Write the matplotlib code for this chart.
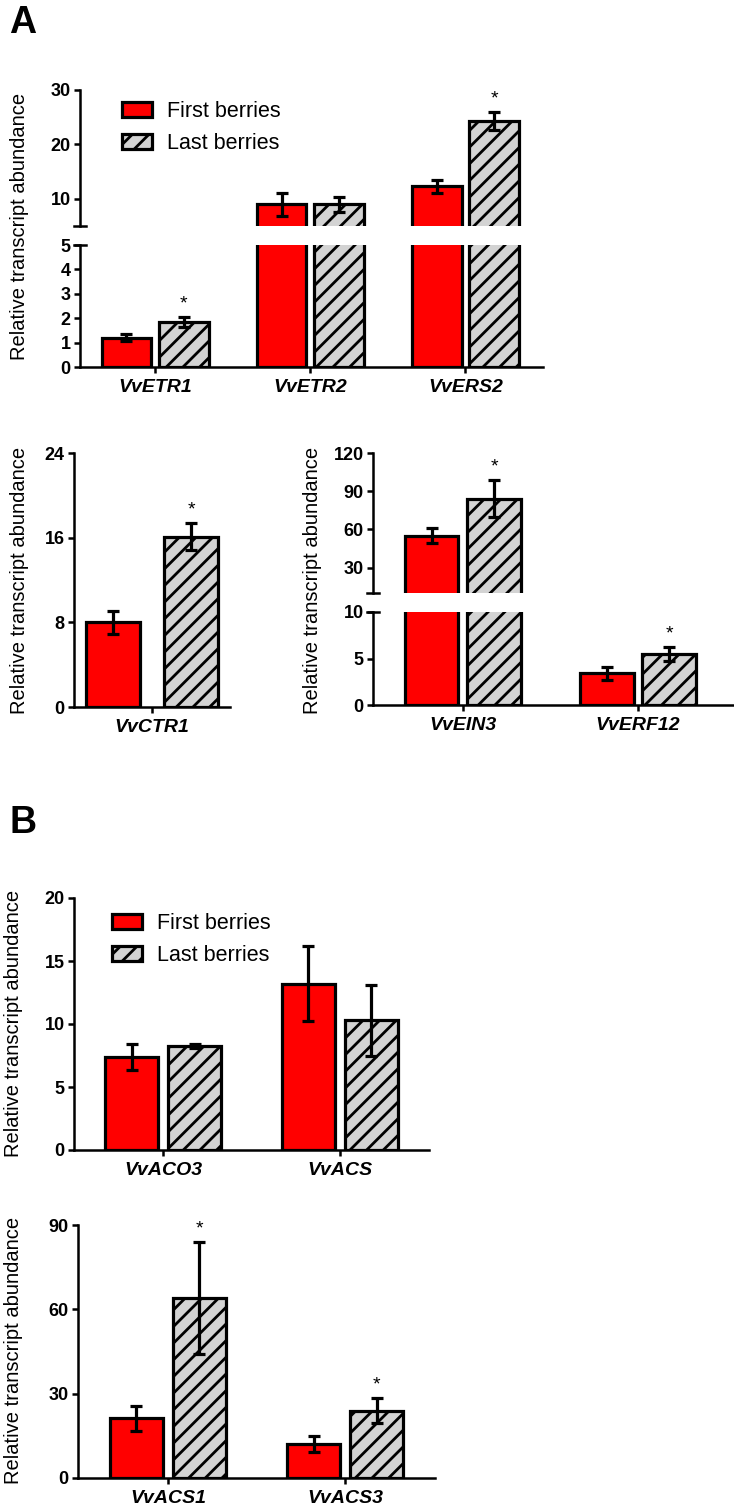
import matplotlib.pyplot as plt
from matplotlib.lines import Line2D
import numpy as np

plt.rcParams["font.family"] = ["Liberation Sans", "DejaVu Sans"]
plt.rcParams["hatch.linewidth"] = 2.0

W, H = 734, 1510
RED = "#ff0000"
GREY = "#d3d3d3"
LEGEND_LABELS = ["First berries", "Last berries"]
YLABEL = "Relative transcript abundance"

# A (top): receptors
receptor_genes = ["VvETR1", "VvETR2", "VvERS2"]
receptor_first = [1.2, 9.0, 12.3]
receptor_first_err = [0.15, 2.1, 1.2]
receptor_last = [1.84, 9.0, 24.3]
receptor_last_err = [0.2, 1.4, 1.6]
receptor_sig = [True, False, True]

# A (bottom left): CTR1
ctr_genes = ["VvCTR1"]
ctr_first = [8.0]
ctr_first_err = [1.1]
ctr_last = [16.1]
ctr_last_err = [1.25]
ctr_sig = [True]

# A (bottom right): EIN3 / ERF12
tf_genes = ["VvEIN3", "VvERF12"]
tf_first = [55.0, 3.4]
tf_first_err = [6.0, 0.7]
tf_last = [84.0, 5.5]
tf_last_err = [14.5, 0.75]
tf_sig = [True, True]

# B (top): ACO3 / ACS
aco_genes = ["VvACO3", "VvACS"]
aco_first = [7.4, 13.2]
aco_first_err = [1.05, 3.0]
aco_last = [8.25, 10.3]
aco_last_err = [0.15, 2.8]
aco_sig = [False, False]

# B (bottom): ACS1 / ACS3
acs_genes = ["VvACS1", "VvACS3"]
acs_first = [21.2, 12.0]
acs_first_err = [4.4, 2.8]
acs_last = [64.0, 24.0]
acs_last_err = [20.0, 4.3]
acs_sig = [True, True]


def rect(x0, x1, ytop, ybot):
    return [x0 / W, 1 - ybot / H, (x1 - x0) / W, (ybot - ytop) / H]


def style_axes(ax, xlim, ylim, yticks, bottom=True):
    ax.set_xlim(*xlim)
    ax.set_ylim(*ylim)
    for side in ["top", "right"]:
        ax.spines[side].set_visible(False)
    ax.spines["left"].set_linewidth(1.8)
    ax.spines["bottom"].set_linewidth(1.8)
    ax.set_yticks(yticks, [str(t) for t in yticks], fontweight="bold", fontsize=13)
    ax.tick_params(axis="y", length=4.3, width=1.8, pad=2.5)
    if not bottom:
        ax.spines["bottom"].set_visible(False)
        ax.set_xticks([])


def draw_bars(ax, genes, first, first_err, last, last_err, sig, off, width, labels=True):
    x = np.arange(len(genes))
    err_kw = dict(ecolor="black", elinewidth=2.3, capsize=4.3, capthick=2.3)
    b1 = ax.bar(x - off, first, width, color=RED, edgecolor="black", linewidth=2.3,
                yerr=first_err, error_kw=err_kw)
    b2 = ax.bar(x + off, last, width, color=GREY, edgecolor="black", linewidth=2.3,
                hatch="//", yerr=last_err, error_kw=err_kw)
    lo, hi = ax.get_ylim()
    for i, s in enumerate(sig):
        top = last[i] + last_err[i]
        if s and lo <= top <= hi:
            ax.annotate("*", xy=(x[i] + off, top), xytext=(0, 9.5),
                        textcoords="offset points", ha="center", va="center",
                        fontsize=14)
    if labels:
        ax.set_xticks(x, genes, fontstyle="italic", fontweight="bold", fontsize=14)
        ax.tick_params(axis="x", length=4.3, width=1.8, pad=4)
    return b1, b2


def cap(fig, xpx, ypx, half=6):
    fig.add_artist(Line2D([(xpx - half) / W, (xpx + half) / W], [1 - ypx / H, 1 - ypx / H],
                          transform=fig.transFigure, color="black", linewidth=1.8))


def add_legend(fig, bars, xpx, ypx):
    fig.legend(bars, LEGEND_LABELS, loc="upper left", bbox_to_anchor=(xpx / W, 1 - ypx / H),
               frameon=False, fontsize=15.5, handlelength=1.4, handleheight=0.7,
               handletextpad=0.7, labelspacing=0.52, borderpad=0, borderaxespad=0)


fig = plt.figure(figsize=(W / 100, H / 100), dpi=100)

# ---- A top (broken axis)
ax_up = fig.add_axes(rect(80, 543, 90, 226))
ax_lo = fig.add_axes(rect(80, 543, 245, 367))
style_axes(ax_up, (-0.484, 2.5), (5, 30), [10, 20, 30], bottom=False)
style_axes(ax_lo, (-0.484, 2.5), (0, 5), [0, 1, 2, 3, 4, 5])
draw_bars(ax_up, receptor_genes, receptor_first, receptor_first_err, receptor_last,
          receptor_last_err, receptor_sig, 0.185, 0.32, labels=False)
bars = draw_bars(ax_lo, receptor_genes, receptor_first, receptor_first_err, receptor_last,
                 receptor_last_err, receptor_sig, 0.185, 0.32)
cap(fig, 80, 226)
cap(fig, 80, 245)
add_legend(fig, bars, 122, 101)

# ---- A bottom left
ax = fig.add_axes(rect(74, 230, 453, 707))
style_axes(ax, (-0.5, 0.5), (0, 24), [0, 8, 16, 24])
draw_bars(ax, ctr_genes, ctr_first, ctr_first_err, ctr_last, ctr_last_err, ctr_sig,
          0.25, 0.346)

# ---- A bottom right (broken axis)
ax_up = fig.add_axes(rect(373, 733, 453, 593))
ax_lo = fig.add_axes(rect(373, 733, 612, 705))
style_axes(ax_up, (-0.514, 1.543), (10, 120), [30, 60, 90, 120], bottom=False)
style_axes(ax_lo, (-0.514, 1.543), (0, 10), [0, 5, 10])
draw_bars(ax_up, tf_genes, tf_first, tf_first_err, tf_last, tf_last_err, tf_sig,
          0.178, 0.305, labels=False)
draw_bars(ax_lo, tf_genes, tf_first, tf_first_err, tf_last, tf_last_err, tf_sig,
          0.178, 0.305)
cap(fig, 373, 593)
cap(fig, 373, 612)

# ---- B top
ax = fig.add_axes(rect(74, 429, 898, 1150))
style_axes(ax, (-0.503, 1.503), (0, 20), [0, 5, 10, 15, 20])
bars = draw_bars(ax, aco_genes, aco_first, aco_first_err, aco_last, aco_last_err, aco_sig,
                 0.178, 0.30)
add_legend(fig, bars, 112, 913)

# ---- B bottom
ax = fig.add_axes(rect(78, 435, 1225, 1478))
style_axes(ax, (-0.508, 1.508), (0, 90), [0, 30, 60, 90])
draw_bars(ax, acs_genes, acs_first, acs_first_err, acs_last, acs_last_err, acs_sig,
          0.178, 0.30)

# y labels and panel letters
for xpx, ypx in [(20, 226), (20, 580), (312, 580), (14, 1023), (14, 1350)]:
    fig.text(xpx / W, 1 - ypx / H, YLABEL, rotation=90, ha="center", va="center",
             fontsize=14.5)
fig.text(9 / W, 1 - 5 / H, "A", fontsize=27, fontweight="bold", ha="left", va="top")
fig.text(9 / W, 1 - 805 / H, "B", fontsize=27, fontweight="bold", ha="left", va="top")

fig.savefig("out.png", dpi=100)
